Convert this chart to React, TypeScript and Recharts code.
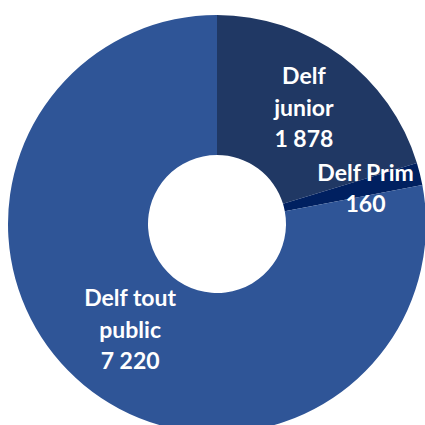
import React from "react";
import { PieChart, Pie, Cell } from "recharts";

const categories = ["Delf junior", "Delf Prim", "Delf tout public"];
const labelLines = [["Delf", "junior", "1 878"], ["Delf Prim", "160"], ["Delf tout", "public", "7 220"]];
const values = [1878, 160, 7220];
const colors = ["#203864", "#002060", "#2F5597"];

const data = categories.map((name, i) => ({ name, value: values[i] }));

const RAD = Math.PI / 180;
const labelRadiusFrac = [0.55, 0.6, 0.48];

const renderLabel = (props: any) => {
  const { cx, cy, midAngle, innerRadius, outerRadius, index } = props;
  const r = innerRadius + (outerRadius - innerRadius) * labelRadiusFrac[index];
  const x = cx + r * Math.cos(-midAngle * RAD);
  const y = cy + r * Math.sin(-midAngle * RAD);
  const lines = labelLines[index];
  const lh = 31.5;
  const y0 = y - ((lines.length - 1) * lh) / 2;
  return (
    <text
      x={x}
      y={y0}
      fill="#FFFFFF"
      textAnchor="middle"
      dominantBaseline="central"
      fontFamily="Lato, 'Open Sans', sans-serif"
      fontWeight={700}
      fontSize={23}
    >
      {lines.map((l, i) => (
        <tspan key={i} x={x} y={y0 + i * lh}>
          {l}
        </tspan>
      ))}
    </text>
  );
};

export default function App() {
  return (
    <div style={{ position: "absolute", left: 0, top: 0, width: 425, height: 425, background: "#fff" }}>
      <PieChart width={425} height={425} margin={{ top: 0, right: 0, bottom: 0, left: 0 }}>
        <Pie
          data={data}
          dataKey="value"
          nameKey="name"
          cx={217}
          cy={224}
          innerRadius={69}
          outerRadius={209}
          startAngle={90}
          endAngle={-270}
          stroke="none"
          label={renderLabel}
          labelLine={false}
          isAnimationActive={false}
        >
          {data.map((d, i) => (
            <Cell key={d.name} fill={colors[i]} />
          ))}
        </Pie>
      </PieChart>
    </div>
  );
}
